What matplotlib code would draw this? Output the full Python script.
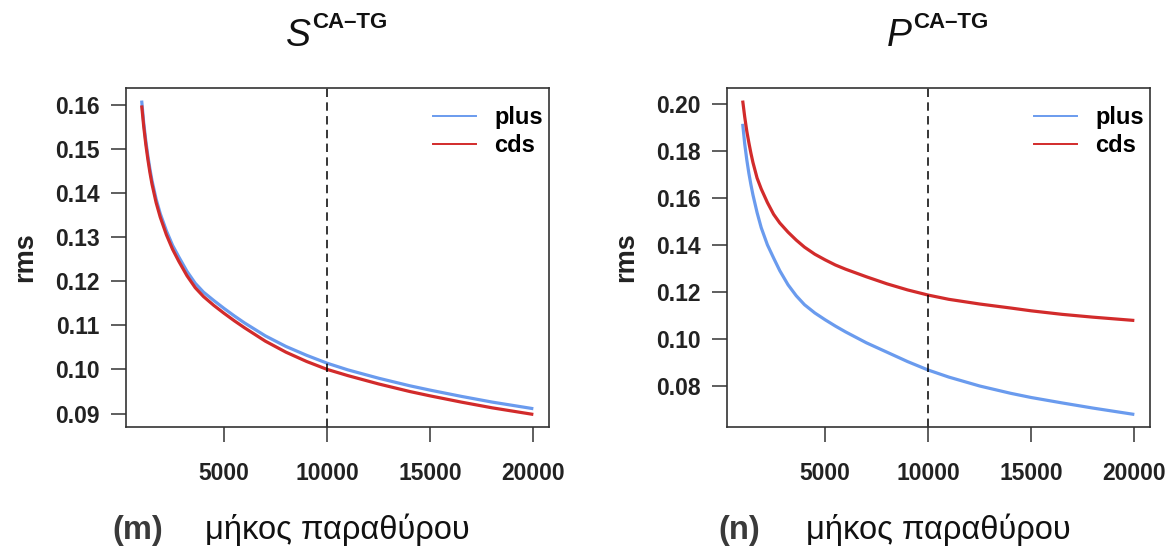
import matplotlib
matplotlib.use("Agg")
import matplotlib.pyplot as plt
from matplotlib.lines import Line2D

plt.rcParams['font.family'] = ['Liberation Sans', 'DejaVu Sans']

x_win = [1000, 1100, 1200, 1300, 1400, 1500, 1700, 1900, 2200, 2500, 2800, 3200,
         3600, 4000, 4500, 5000, 5500, 6000, 7000, 8000, 9000, 10000, 11000,
         12500, 14000, 15000, 16500, 18000, 20000]

# panel (m): S^{CA-TG}
s_plus = [0.1609, 0.1558, 0.1518, 0.1484, 0.1454, 0.1428, 0.1386, 0.1353, 0.1314,
          0.1281, 0.1255, 0.1222, 0.1195, 0.1175, 0.1156, 0.1138, 0.1121, 0.1105,
          0.1076, 0.1052, 0.1032, 0.1014, 0.0999, 0.0980, 0.0963, 0.0953, 0.0939,
          0.0926, 0.0911]
s_cds = [0.1598, 0.1550, 0.1510, 0.1476, 0.1446, 0.1420, 0.1378, 0.1345, 0.1305,
         0.1272, 0.1245, 0.1212, 0.1185, 0.1165, 0.1145, 0.1127, 0.1110, 0.1094,
         0.1064, 0.1039, 0.1018, 0.1000, 0.0986, 0.0967, 0.0950, 0.0940, 0.0926,
         0.0913, 0.0898]

# panel (n): P^{CA-TG}
p_plus = [0.1915, 0.1829, 0.1762, 0.1705, 0.1656, 0.1612, 0.1537, 0.1473, 0.1400,
          0.1344, 0.1290, 0.1230, 0.1183, 0.1145, 0.1110, 0.1081, 0.1054, 0.1029,
          0.0983, 0.0943, 0.0903, 0.0867, 0.0837, 0.0799, 0.0768, 0.0750, 0.0727,
          0.0705, 0.0678]
p_cds = [0.2014, 0.1944, 0.1884, 0.1835, 0.1790, 0.1750, 0.1684, 0.1638, 0.1580,
         0.1530, 0.1493, 0.1454, 0.1420, 0.1390, 0.1360, 0.1336, 0.1314, 0.1296,
         0.1264, 0.1234, 0.1208, 0.1186, 0.1168, 0.1148, 0.1131, 0.1119, 0.1104,
         0.1092, 0.1078]

s_yticks = [0.09, 0.10, 0.11, 0.12, 0.13, 0.14, 0.15, 0.16]
p_yticks = [0.08, 0.10, 0.12, 0.14, 0.16, 0.18, 0.20]
xticks = [5000, 10000, 15000, 20000]
vline_x = 10000

titles = [("S", "CA\u2013TG"), ("P", "CA\u2013TG")]
panel_tags = ["(m)", "(n)"]
xlabel = "μήκος παραθύρου"
ylabel = "rms"
series_names = ["plus", "cds"]

BLUE = "#6A9BEE"
RED = "#D22B2B"
FRAME = "#333333"

W, H = 1172, 552
fig = plt.figure(figsize=(W / 100, H / 100), dpi=100)

ax_l = fig.add_axes([126 / W, (H - 427) / H, 423 / W, 339 / H])
ax_r = fig.add_axes([727 / W, (H - 427) / H, 423 / W, 339 / H])

panels = [
    (ax_l, x_win, s_plus, s_cds, s_yticks),
    (ax_r, x_win, p_plus, p_cds, p_yticks),
]

for i, (ax, xs, yp, yc, yt) in enumerate(panels):
    ax.plot(xs, yp, color=BLUE, lw=2.3, solid_capstyle='butt', solid_joinstyle='round')
    ax.plot(xs, yc, color=RED, lw=2.3, solid_capstyle='butt', solid_joinstyle='round')
    ax.margins(x=0.04, y=0.04)
    ax.axvline(vline_x, color='black', lw=1.1, ls=(0, (5.5, 3.5)))
    ax.set_xticks(xticks)
    ax.set_xticklabels([str(v) for v in xticks])
    ax.set_yticks(yt)
    ax.set_yticklabels([f"{v:.2f}" for v in yt])
    for sp in ax.spines.values():
        sp.set_color(FRAME)
        sp.set_linewidth(1.2)
    ax.tick_params(axis='both', direction='out', length=11, width=1.1,
                   color=FRAME, labelsize=16.5)
    ax.tick_params(axis='y', pad=8)
    ax.tick_params(axis='x', pad=14)
    for lab in ax.get_xticklabels() + ax.get_yticklabels():
        lab.set_fontweight('bold')
        lab.set_color('#222222')
    ax.set_ylabel(ylabel, fontsize=19.5, fontweight='bold', labelpad=12,
                  color='#222222')
    handles = [Line2D([], [], color=BLUE, lw=1.4), Line2D([], [], color=RED, lw=1.4)]
    ax.legend(handles, series_names, loc='upper right', frameon=False,
              bbox_to_anchor=(1.0, 0.964), borderaxespad=0.0, borderpad=0.25,
              handlelength=1.8, handletextpad=0.8, labelspacing=0.2,
              prop={'weight': 'bold', 'size': 17})

    # title: italic letter with bold superscript
    pos = ax.get_position()
    cx = (pos.x0 + pos.x1) / 2
    fig.text(cx - 27 / W, 1 - 46 / H, titles[i][0], fontsize=27, style='italic',
             ha='right', va='baseline', color='#111111')
    fig.text(cx - 25 / W, 1 - 28 / H, titles[i][1], fontsize=16, fontweight='bold',
             ha='left', va='baseline', color='#111111')

    # x label and panel tag
    fig.text(cx, 1 - 530 / H, xlabel, fontsize=23.5, ha='center', va='center',
             color='#111111')
    fig.text(pos.x0 + 12 / W, 1 - 530 / H, panel_tags[i], fontsize=23.5,
             fontweight='bold', ha='center', va='center', color='#3a3a3a')

fig.savefig("out.png", dpi=100, facecolor='white')
